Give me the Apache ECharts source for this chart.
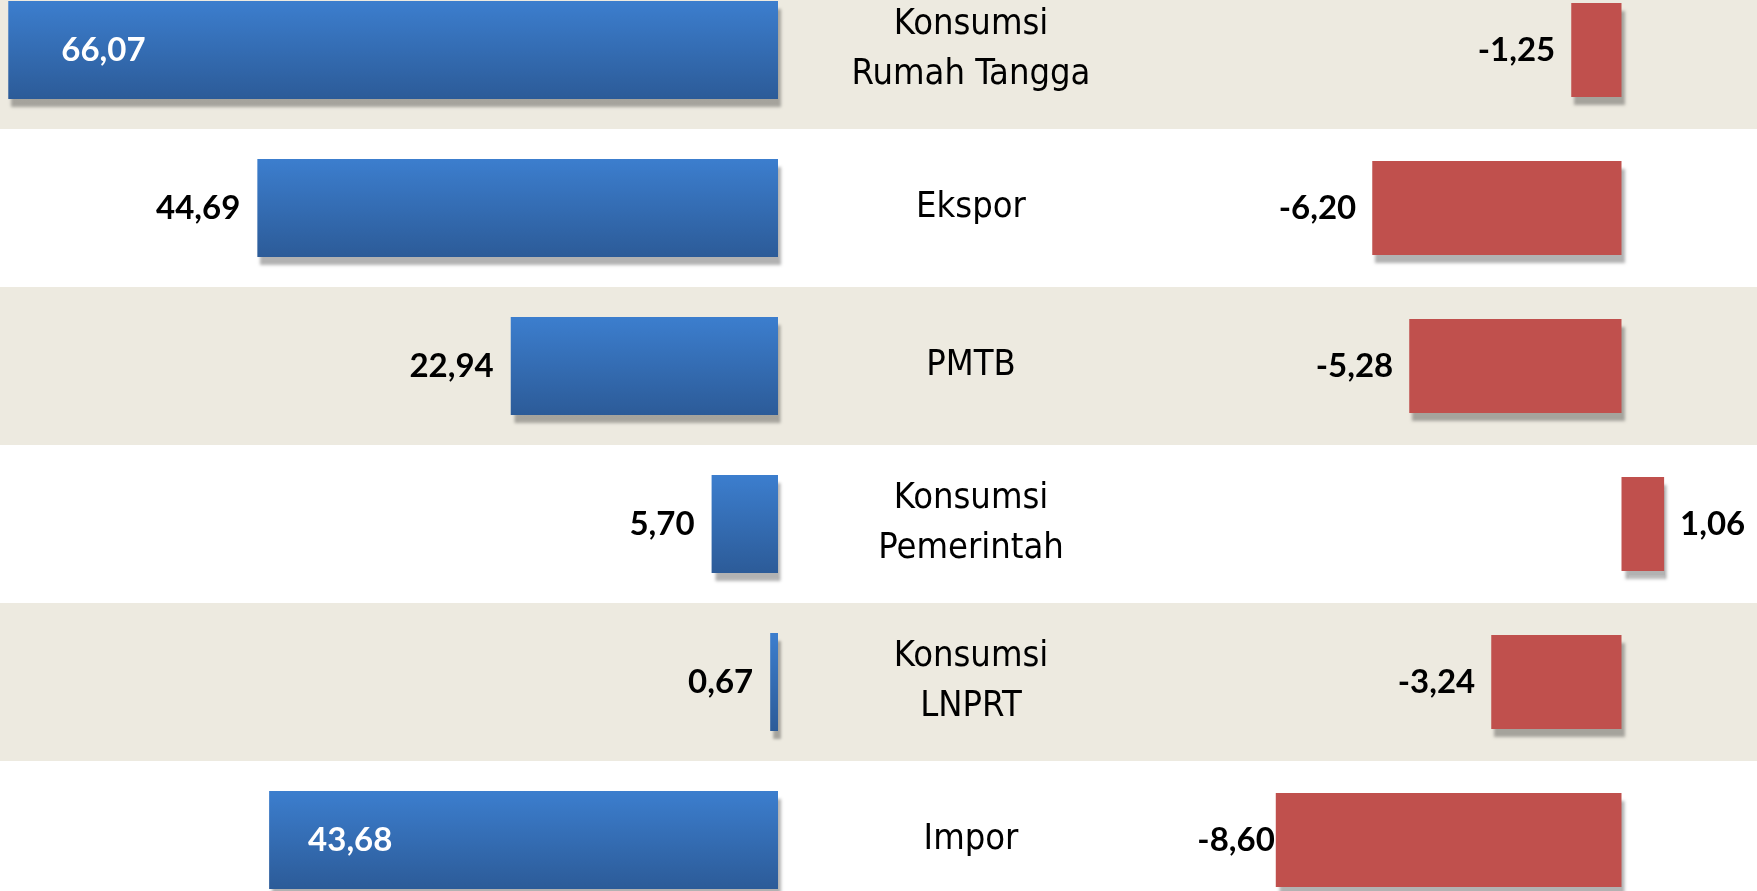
<!DOCTYPE html>
<html>
<head>
<meta charset="utf-8">
<style>
  html, body { margin: 0; padding: 0; background: #fff; overflow: hidden; }
  #chart { position: absolute; left: 0; top: -29px; width: 1757px; height: 948px; }
</style>
<script src="https://cdn.jsdelivr.net/npm/echarts@6/dist/echarts.min.js"></script>
</head>
<body>
<div id="chart"></div>
<script>
var categories = ['Konsumsi\nRumah Tangga', 'Ekspor', 'PMTB', 'Konsumsi\nPemerintah', 'Konsumsi\nLNPRT', 'Impor'];
var shareValues = [66.07, 44.69, 22.94, 5.70, 0.67, 43.68];
var growthValues = [-1.25, -6.20, -5.28, 1.06, -3.24, -8.60];

var chart = echarts.init(document.getElementById('chart'));

function fmt(p) {
  return p.value.toFixed(2).replace('.', ',');
}

var numFont = 'Lato, "Open Sans", sans-serif';
var catFont = '"Liberation Sans Narrow", "DejaVu Sans Condensed", "Liberation Sans", Arial, sans-serif';

// white labels sitting inside the long blue bars
var insideDist = { 0: 53, 5: 39 };

var blueData = shareValues.map(function(v, i) {
  if (insideDist[i] !== undefined) {
    return { value: v, label: { position: 'insideLeft', distance: insideDist[i], color: '#fff' } };
  }
  return v;
});

var redData = growthValues.map(function(v, i) {
  var d = { value: v, label: { position: v < 0 ? 'left' : 'right' } };
  if (v < -8) d.label.distance = 1;
  return d;
});

var shadow = {
  shadowColor: 'rgba(0,0,0,0.3)',
  shadowBlur: 3,
  shadowOffsetX: 3,
  shadowOffsetY: 8
};

var option = {
  animation: false,
  backgroundColor: '#fff',
  grid: [
    { left: 0, width: 778, top: 0, bottom: 0 },
    { left: 1219.5, width: 482.4, top: 0, bottom: 0 },
    { left: 0, right: 0, top: 0, bottom: 0, z: -1 }
  ],
  xAxis: [
    { gridIndex: 0, type: 'value', inverse: true, min: 0, max: 66.78, show: false },
    { gridIndex: 1, type: 'value', min: -10, max: 2, show: false },
    { gridIndex: 2, type: 'value', min: 0, max: 1, show: false }
  ],
  yAxis: [
    {
      gridIndex: 0, type: 'category', data: categories, inverse: true, position: 'right',
      axisLine: { show: false }, axisTick: { show: false }, splitLine: { show: false },
      axisLabel: {
        margin: 193, align: 'center', color: '#000', padding: [10, 0, 0, 0],
        fontFamily: catFont, fontSize: 36, lineHeight: 50
      }
    },
    {
      gridIndex: 1, type: 'category', data: categories, inverse: true,
      axisLine: { show: false }, axisTick: { show: false }, axisLabel: { show: false }, splitLine: { show: false }
    },
    {
      gridIndex: 2, type: 'category', data: categories, inverse: true,
      axisLine: { show: false }, axisTick: { show: false }, axisLabel: { show: false }, splitLine: { show: false },
      splitArea: { show: true, areaStyle: { color: ['#EDEAE0', '#FFFFFF'] } }
    }
  ],
  series: [
    {
      type: 'bar', xAxisIndex: 0, yAxisIndex: 0, data: blueData, barWidth: 98,
      itemStyle: Object.assign({
        color: new echarts.graphic.LinearGradient(0, 0, 0, 1, [
          { offset: 0, color: '#3C7ECE' },
          { offset: 1, color: '#2C5B98' }
        ])
      }, shadow),
      label: {
        show: true, position: 'left', distance: 17, formatter: fmt,
        color: '#000', fontFamily: numFont, fontWeight: 'bold', fontSize: 33
      }
    },
    {
      type: 'bar', xAxisIndex: 1, yAxisIndex: 1, data: redData, barWidth: 94,
      itemStyle: Object.assign({ color: '#C0504D' }, shadow),
      label: {
        show: true, distance: 16, formatter: fmt,
        color: '#000', fontFamily: numFont, fontWeight: 'bold', fontSize: 33
      }
    },
    {
      type: 'bar', xAxisIndex: 2, yAxisIndex: 2, data: [], silent: true
    }
  ]
};

chart.setOption(option);
window.addEventListener('resize', chart.resize);
</script>
</body>
</html>
